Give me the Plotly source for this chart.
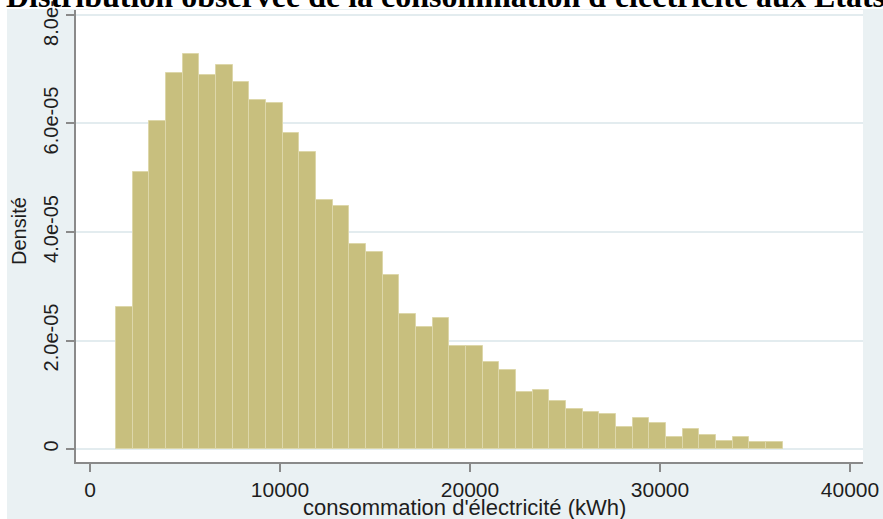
import plotly.graph_objects as go

# ---- data ----
bin_start_kwh = 1368
bin_width_kwh = 877
densities_e5 = [2.61, 5.11, 6.05, 6.94, 7.28, 6.89, 7.07, 6.76, 6.43, 6.38,
                5.82, 5.47, 4.59, 4.48, 3.78, 3.63, 3.20, 2.48, 2.25, 2.41,
                1.90, 1.90, 1.60, 1.46, 1.05, 1.09, 0.89, 0.73, 0.68, 0.64,
                0.41, 0.58, 0.48, 0.23, 0.37, 0.26, 0.15, 0.23, 0.12, 0.12]
x_tick_vals = [0, 10000, 20000, 30000, 40000]
x_tick_text = ["0", "10000", "20000", "30000", "40000"]
y_tick_vals = [0, 2e-5, 4e-5, 6e-5, 8e-5]
y_tick_text = ["0", "2.0e-05", "4.0e-05", "6.0e-05", "8.0e-05"]
title_text = "Distribution observée de la consommation d'électricité aux Etats-Unis"
x_title = "consommation d'électricité (kWh)"
y_title = "Densité"

densities = [d * 1e-5 for d in densities_e5]
centers = [bin_start_kwh + bin_width_kwh * (i + 0.5) for i in range(len(densities))]

W, H = 883, 519
L, R, T, B = 76, 863, 10, 462  # plot area in pixels

def px_x(p):
    return (p - L) / (R - L)

def px_y(p):
    return (B - p) / (B - T)

BG = "#EAF1F3"
GRID = "#E3ECEF"
AXIS = "#8A8A8A"
TXT = "#1E1E1E"
FONT = "Liberation Sans, Arial, sans-serif"

fig = go.Figure()
fig.add_trace(go.Bar(
    x=centers, y=densities, width=[bin_width_kwh] * len(densities),
    marker=dict(color="#C8BF7E", line=dict(color="#DDD7AA", width=1)),
    hoverinfo="skip", showlegend=False,
))

fig.update_layout(
    width=W, height=H,
    margin=dict(l=L, r=W - R, t=T, b=H - B, pad=0, autoexpand=False),
    paper_bgcolor=BG,
    plot_bgcolor="white",
    bargap=0,
    font=dict(family=FONT, color=TXT, size=20),
    xaxis=dict(
        range=[-737, 40684], tickvals=x_tick_vals, ticktext=x_tick_text,
        showgrid=False, zeroline=False, automargin=False,
        showline=True, linecolor=AXIS, linewidth=2,
        ticks="outside", ticklen=8, tickwidth=1.5, tickcolor=AXIS,
        tickfont=dict(size=21, color=TXT, family=FONT),
        ticklabeloverflow="allow",
    ),
    yaxis=dict(
        range=[-2.396e-6, 8.092e-5], tickvals=y_tick_vals, ticktext=y_tick_text,
        showgrid=True, gridcolor=GRID, gridwidth=1.5, zeroline=False, automargin=False,
        showline=True, linecolor=AXIS, linewidth=2,
        ticks="outside", ticklen=8, tickwidth=1.5, tickcolor=AXIS,
        tickangle=-90,
        tickfont=dict(size=20, color=TXT, family=FONT),
        ticklabeloverflow="allow",
    ),
    shapes=[
        # white strips at the left and top edges of the picture
        dict(type="rect", xref="paper", yref="paper",
             x0=px_x(0), x1=px_x(7), y0=px_y(H), y1=px_y(0),
             fillcolor="white", line=dict(width=0), layer="below"),
        dict(type="rect", xref="paper", yref="paper",
             x0=px_x(0), x1=px_x(W), y0=px_y(9), y1=px_y(0),
             fillcolor="white", line=dict(width=0), layer="below"),
    ],
    annotations=[
        dict(text="<b>" + title_text + "</b>", xref="paper", yref="paper",
             x=px_x(4), y=px_y(16), xanchor="left", yanchor="bottom",
             showarrow=False,
             font=dict(family="Liberation Serif, Times New Roman, serif", size=32, color="black")),
        dict(text=x_title, xref="paper", yref="paper",
             x=px_x(464), y=px_y(507), xanchor="center", yanchor="middle",
             showarrow=False, font=dict(size=22, color=TXT, family=FONT)),
        dict(text=y_title, xref="paper", yref="paper",
             x=px_x(19), y=px_y(231), xanchor="center", yanchor="middle",
             textangle=-90, showarrow=False, font=dict(size=20, color=TXT, family=FONT)),
    ],
)

fig.write_html("out.html")
